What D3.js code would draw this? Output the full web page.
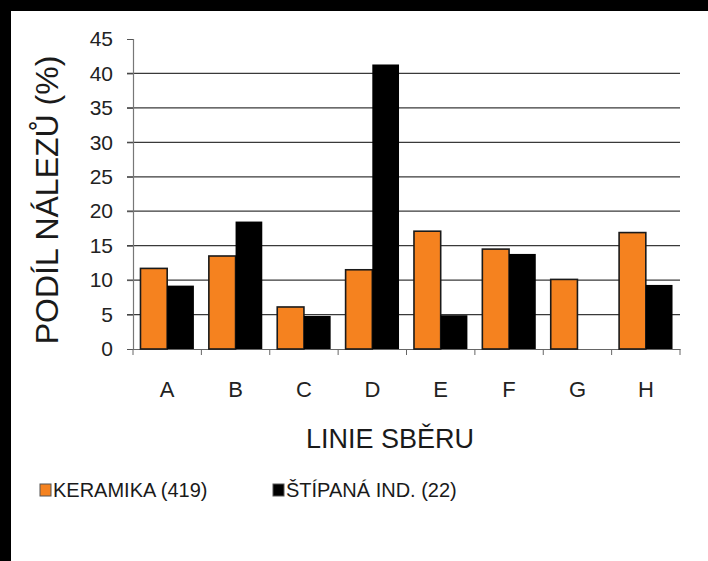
<!DOCTYPE html>
<html>
<head>
<meta charset="utf-8">
<script src="https://cdn.jsdelivr.net/npm/d3@7.9.0/dist/d3.min.js"></script>
<style>
  body { margin: 0; background: #000; }
  svg { display: block; font-family: "Liberation Sans", Arial, sans-serif; }
</style>
</head>
<body>
<svg id="chart" width="708" height="561"></svg>
<script>
const categories = ['A', 'B', 'C', 'D', 'E', 'F', 'G', 'H'];
const keramika = [11.7, 13.5, 6.1, 11.5, 17.1, 14.5, 10.1, 16.9];
const stipana = [9.2, 18.5, 4.8, 41.3, 4.9, 13.8, 0, 9.3];
const yTicks = [0, 5, 10, 15, 20, 25, 30, 35, 40, 45];
const gridTicks = [5, 10, 15, 20, 25, 30, 35, 40];
const seriesNames = ['KERAMIKA (419)', 'ŠTÍPANÁ IND. (22)'];
const seriesColors = ['#f5821f', '#000000'];

const svg = d3.select('#chart');

svg.append('rect').attr('width', 708).attr('height', 561).attr('fill', '#000');
svg.append('rect').attr('x', 11).attr('y', 11).attr('width', 697).attr('height', 550).attr('fill', '#fff');

let x = d3.scaleBand().domain(categories).range([133, 680]);
let x1 = d3.scaleBand().domain([0, 1]).range([0, x.bandwidth()]).paddingOuter(0.28).paddingInner(0);
let y = d3.scaleLinear().domain([0, 45]).range([349, 39]);

// gridlines
svg.append('g')
  .selectAll('line')
  .data(gridTicks)
  .join('line')
  .attr('x1', 127).attr('x2', 680)
  .attr('y1', d => y(d)).attr('y2', d => y(d))
  .attr('stroke', '#3a3a3a')
  .attr('stroke-width', 1.3);

// y axis
let yAxis = svg.append('g')
  .attr('transform', 'translate(133,0)')
  .call(d3.axisLeft(y).tickValues(yTicks).tickSize(6).tickPadding(14));
yAxis.select('.domain').attr('stroke', '#777').attr('stroke-width', 1.2);
yAxis.selectAll('.tick line').attr('stroke', '#555');
yAxis.selectAll('text').attr('font-size', 21).attr('fill', '#222').attr('font-family', '"Liberation Sans", Arial, sans-serif');

// x axis
let xAxis = svg.append('g')
  .attr('transform', `translate(0,${y(0)})`)
  .call(d3.axisBottom(x).tickSize(0).tickPadding(32));
xAxis.select('.domain').attr('stroke', '#666').attr('stroke-width', 1.2);
xAxis.selectAll('text').attr('font-size', 22).attr('fill', '#222').attr('font-family', '"Liberation Sans", Arial, sans-serif');

svg.append('g')
  .selectAll('line')
  .data(d3.range(categories.length + 1))
  .join('line')
  .attr('x1', i => 133 + i * x.step()).attr('x2', i => 133 + i * x.step())
  .attr('y1', y(0)).attr('y2', y(0) + 6)
  .attr('stroke', '#666');

// bars
let rows = categories.map((c, i) => ({ cat: c, values: [keramika[i], stipana[i]] }));

svg.append('g')
  .selectAll('g')
  .data(rows)
  .join('g')
  .attr('transform', d => `translate(${x(d.cat)},0)`)
  .selectAll('rect')
  .data(d => d.values.map((v, s) => ({ v, s })).filter(d => d.v > 0))
  .join('rect')
  .attr('x', d => x1(d.s))
  .attr('width', x1.bandwidth())
  .attr('y', d => y(d.v))
  .attr('height', d => y(0) - y(d.v))
  .attr('fill', d => seriesColors[d.s])
  .attr('stroke', '#1a1a1a')
  .attr('stroke-width', d => d.s === 0 ? 1.6 : 0);

// titles
svg.append('text')
  .attr('transform', 'translate(58,200) rotate(-90)')
  .attr('text-anchor', 'middle')
  .attr('font-size', 32)
  .attr('fill', '#1a1a1a')
  .text('PODÍL NÁLEZŮ (%)');

svg.append('text')
  .attr('x', 390).attr('y', 448)
  .attr('text-anchor', 'middle')
  .attr('font-size', 27)
  .attr('fill', '#1a1a1a')
  .text('LINIE SBĚRU');

// legend
let legendX = [40, 273];
let legend = svg.append('g')
  .selectAll('g')
  .data(seriesNames)
  .join('g')
  .attr('transform', (_, i) => `translate(${legendX[i]},484)`);

legend.append('rect')
  .attr('width', 11).attr('height', 12)
  .attr('fill', (_, i) => seriesColors[i])
  .attr('stroke', '#555')
  .attr('stroke-width', 1);

legend.append('text')
  .attr('x', 13).attr('y', 13)
  .attr('font-size', 20)
  .attr('fill', '#1a1a1a')
  .text(d => d);
</script>
</body>
</html>
